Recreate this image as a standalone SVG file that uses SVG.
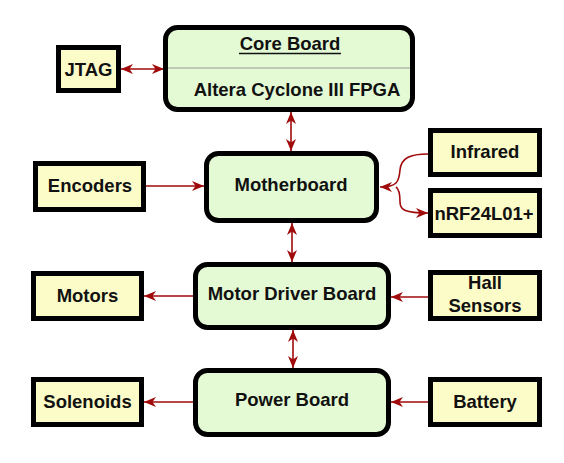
<svg xmlns="http://www.w3.org/2000/svg" width="564" height="463" viewBox="0 0 564 463">
<style>
.big{fill:#e4fad4;stroke:#000;stroke-width:5}
.small{fill:#fcfcc8;stroke:#000;stroke-width:5}
text{font-family:"Liberation Sans",Arial,Helvetica,sans-serif;font-weight:bold;font-size:18.5px;fill:#111;text-anchor:middle}
.c{fill:none;stroke:#a00a0a;stroke-width:1.6}
</style>
<defs>
<marker id="ah" markerUnits="userSpaceOnUse" markerWidth="13" markerHeight="11" refX="12" refY="5.5" orient="auto-start-reverse">
<path d="M0,0.5 L12,5.5 L0,10.5 L3.5,5.5 z" fill="#a00a0a"/>
</marker>
</defs>
<rect x="0" y="0" width="564" height="463" fill="#fff"/>
<g id="connectors">
<path class="c" d="M121,69 L164,69" marker-start="url(#ah)" marker-end="url(#ah)"/>
<path class="c" d="M291,112 L291,151" marker-start="url(#ah)" marker-end="url(#ah)"/>
<path class="c" d="M146,186 L204,186" marker-end="url(#ah)"/>
<path class="c" d="M428,154 C410,154 401,158 400,170 C399,182 397,187 380,187" marker-end="url(#ah)"/>
<path class="c" d="M396,187 C399,189 400,195 400,202 C400,210 405,213 428,213" marker-end="url(#ah)"/>
<path class="c" d="M292,223 L292,262" marker-start="url(#ah)" marker-end="url(#ah)"/>
<path class="c" d="M193,296 L144,296" marker-end="url(#ah)"/>
<path class="c" d="M428,297 L391,297" marker-end="url(#ah)"/>
<path class="c" d="M293,330 L293,368" marker-start="url(#ah)" marker-end="url(#ah)"/>
<path class="c" d="M193,402 L144,402" marker-end="url(#ah)"/>
<path class="c" d="M428,402 L391,402" marker-end="url(#ah)"/>
</g>
<g id="jtag"><rect class="small" x="58.5" y="47.5" width="60" height="43"/><text x="88.5" y="75.5">JTAG</text></g>
<g id="core">
<rect class="big" x="165.5" y="27.5" width="247" height="82" rx="12"/>
<line x1="168" y1="68" x2="410" y2="68" stroke="#999" stroke-width="1"/>
<text x="290" y="50">Core Board</text>
<line x1="239" y1="53.5" x2="341" y2="53.5" stroke="#111" stroke-width="1.5"/>
<text x="297" y="96">Altera Cyclone III FPGA</text>
</g>
<g id="encoders"><rect class="small" x="35.5" y="163.5" width="108" height="46"/><text x="90" y="192">Encoders</text></g>
<g id="motherboard"><rect class="big" x="206.5" y="153.5" width="170" height="67" rx="12"/><text x="291" y="190.5">Motherboard</text></g>
<g id="infrared"><rect class="small" x="430.5" y="130.5" width="109" height="44"/><text x="485" y="158">Infrared</text></g>
<g id="nrf"><rect class="small" x="430.5" y="190.5" width="109" height="45"/><text x="484" y="219.5">nRF24L01+</text></g>
<g id="motors"><rect class="small" x="33.5" y="273.5" width="108" height="45"/><text x="87.5" y="301.5">Motors</text></g>
<g id="motordriver"><rect class="big" x="195.5" y="264.5" width="193" height="63" rx="12"/><text x="292" y="300">Motor Driver Board</text></g>
<g id="hall"><rect class="small" x="430.5" y="272.5" width="109" height="46"/><text x="485" y="289">Hall</text><text x="485" y="312">Sensors</text></g>
<g id="solenoids"><rect class="small" x="33.5" y="379.5" width="108" height="45"/><text x="87.5" y="408">Solenoids</text></g>
<g id="power"><rect class="big" x="195.5" y="370.5" width="193" height="64" rx="12"/><text x="292" y="406">Power Board</text></g>
<g id="battery"><rect class="small" x="430.5" y="379.5" width="109" height="45"/><text x="485" y="407.5">Battery</text></g>
</svg>
